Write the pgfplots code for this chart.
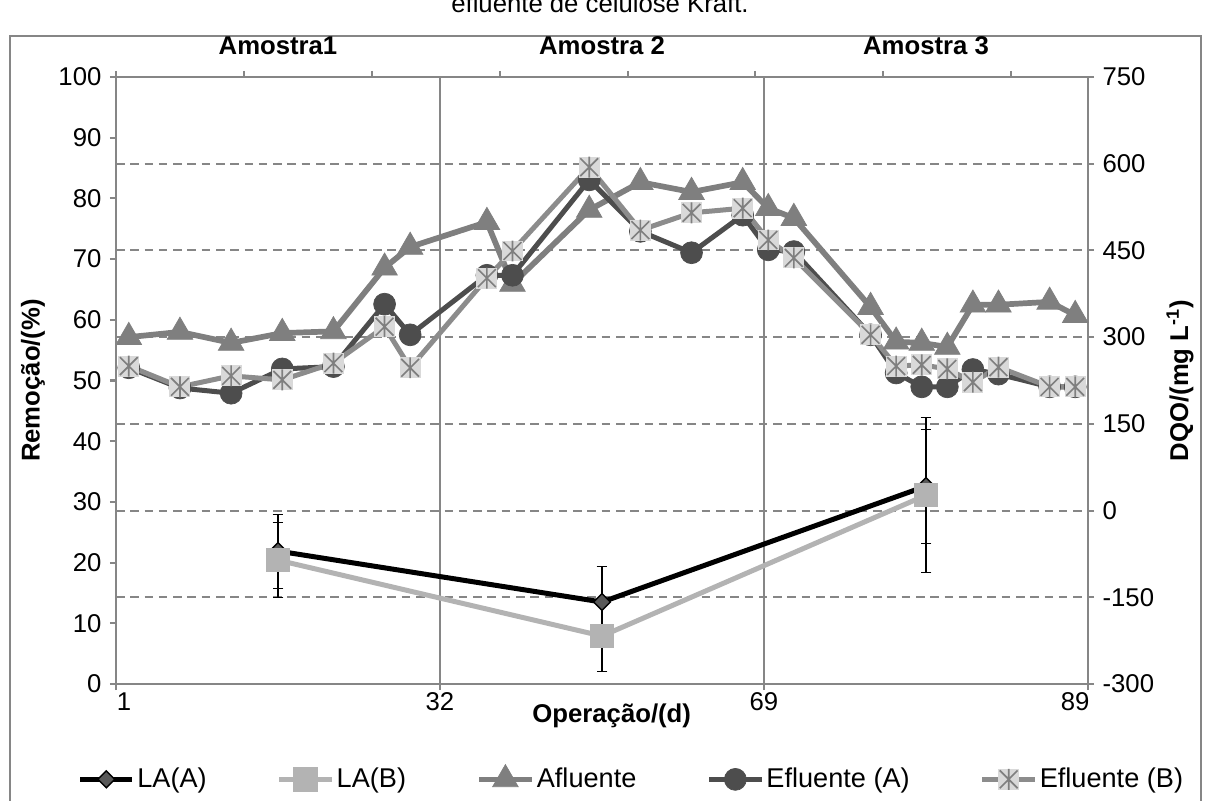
\documentclass[border=0pt]{standalone}
\usepackage{fontspec}
\setmainfont{Liberation Sans}
\usepackage{pgfplots}
\pgfplotsset{compat=1.18}

\definecolor{axgray}{HTML}{868686}
\definecolor{aflu}{HTML}{7F7F7F}
\definecolor{eflA}{HTML}{4D4D4D}
\definecolor{eflB}{HTML}{8C8C8C}
\definecolor{sqfill}{HTML}{D9D9D9}
\definecolor{astgray}{HTML}{7F7F7F}
\definecolor{laAmark}{HTML}{595959}
\definecolor{laB}{HTML}{B3B3B3}

% square with an asterisk, like the Excel marker of Efluente (B)
\pgfdeclareplotmark{sqast}{%
  \pgfpathrectangle{\pgfpoint{-\pgfplotmarksize}{-\pgfplotmarksize}}{\pgfpoint{2\pgfplotmarksize}{2\pgfplotmarksize}}%
  \pgfsetfillcolor{sqfill}%
  \pgfusepathqfill
  \pgfsetstrokecolor{astgray}%
  \pgfsetlinewidth{0.7pt}%
  \pgfpathmoveto{\pgfpoint{-0.85\pgfplotmarksize}{-0.85\pgfplotmarksize}}%
  \pgfpathlineto{\pgfpoint{0.85\pgfplotmarksize}{0.85\pgfplotmarksize}}%
  \pgfpathmoveto{\pgfpoint{-0.85\pgfplotmarksize}{0.85\pgfplotmarksize}}%
  \pgfpathlineto{\pgfpoint{0.85\pgfplotmarksize}{-0.85\pgfplotmarksize}}%
  \pgfpathmoveto{\pgfpoint{0pt}{-\pgfplotmarksize}}%
  \pgfpathlineto{\pgfpoint{0pt}{\pgfplotmarksize}}%
  \pgfusepathqstroke
}

\newcommand{\fs}{\fontsize{10.8}{13}\selectfont}
\newcommand{\fl}{\fontsize{11.4}{13.5}\selectfont}

% DQO series (x = category index + 0.5, 38 categories)
\pgfplotstableread{
x    afl  efa  efb
0.5  300  247  250
2.5  309  212  214
4.5  290  203  233
6.5  307  245  226
8.5  310  249  255
10.5 420  357  318
11.5 456  304  247
14.5 499  407  402
15.5 392  407  449
18.5 520  572  594
20.5 568  483  485
22.5 551  446  515
24.5 568  511  523
25.5 523  451  468
26.5 506  448  437
29.5 352  304  304
30.5 292  238  250
31.5 290  214  252
32.5 283  214  245
33.5 356  244  222
34.5 356  236  248
36.5 361  214  214
37.5 338  214  214
}\dqo

\begin{document}
\begin{tikzpicture}[x=0.42pt,y=0.42pt,font=\fs]

\draw[axgray, line width=0.85pt] (10,765) rectangle (1201,-30);

% secondary axes: DQO (right) and top category axis
\begin{axis}[
  at={(48.72pt,49.14pt)}, anchor=south west, scale only axis,
  width=408.24pt, height=254.94pt,
  xmin=0, xmax=38, ymin=-300, ymax=750,
  axis x line*=top, axis y line*=right,
  axis line style={axgray, line width=0.85pt},
  every tick/.style={axgray, line width=0.85pt},
  tick align=outside, major tick length=2.6pt,
  xtick={0,5,...,35}, xticklabels={},
  ytick={-300,-150,...,750},
  yticklabels={-300,-150,0,150,300,450,600,750},
  tick label style={font=\fs},
  ymajorgrids,
  major grid style={axgray, line width=0.85pt, dash pattern=on 3.6pt off 2.4pt},
  extra x ticks={12.6667,25.3333}, extra x tick labels={},
  extra x tick style={grid=major, major tick length=0pt,
    major grid style={solid, axgray, line width=0.85pt}},
  clip=false,
]
\addplot[aflu, line width=2.4pt, mark=triangle*, mark size=6.2pt,
  mark options={solid, fill=aflu, draw=aflu, line width=0.3pt}]
  table[x=x, y=afl] {\dqo};
\addplot[eflA, line width=2.1pt, mark=*, mark size=4.6pt,
  mark options={solid, fill=eflA, draw=eflA, line width=0.3pt}]
  table[x=x, y=efa] {\dqo};
\addplot[eflB, line width=2.1pt, mark=sqast, mark size=4.4pt]
  table[x=x, y=efb] {\dqo};
\node[rotate=90, font=\fs\bfseries] at (axis description cs:1.0947,0.5) {DQO/(mg L\textsuperscript{-1})};
\end{axis}

% primary axes: Remoção (left) and bottom axis
\begin{axis}[
  at={(48.72pt,49.14pt)}, anchor=south west, scale only axis,
  width=408.24pt, height=254.94pt,
  xmin=0, xmax=38, ymin=0, ymax=100,
  axis x line*=bottom, axis y line*=left,
  axis line style={axgray, line width=0.85pt},
  every tick/.style={axgray, line width=0.85pt},
  tick align=outside, major tick length=2.6pt,
  xtick={0,12.6667,25.3333,38}, xticklabels={},
  extra x ticks={0.31,12.6667,25.3333,37.5},
  extra x tick labels={1,32,69,89},
  extra x tick style={major tick length=0pt},
  ytick={0,10,...,100},
  tick label style={font=\fs},
  /pgf/number format/assume math mode=true,
  clip=false,
  legend columns=5,
  legend style={at={(axis description cs:-0.04,-0.1565)}, anchor=west,
    draw=none, fill=none, inner sep=0pt, font=\fl,
    nodes={inner sep=1pt},
    /tikz/every even column/.append style={column sep=28.5pt}},
  legend image code/.code={\draw[mark repeat=2,mark phase=2,#1]
    plot coordinates {(0pt,0pt) (11pt,0pt) (22pt,0pt)};},
]
\addplot[black, line width=2.1pt, mark=square*, mark size=2.5pt,
  mark options={solid, rotate=45, fill=laAmark, draw=black, line width=0.6pt},
  error bars/.cd, y dir=both, y explicit,
  error bar style={black, line width=0.8pt, mark size=2.3pt}]
  coordinates {(6.3333,21.9) +- (0,6.1) (19,13.5) +- (0,5.9) (31.6667,32.6) +- (0,9.4)};
\addlegendentry{LA(A)}
\addplot[laB, line width=2.1pt, mark=square*, mark size=4.1pt,
  mark options={solid, fill=laB, draw=laB},
  error bars/.cd, y dir=both, y explicit,
  error bar style={black, line width=0.8pt, mark size=2.3pt}]
  coordinates {(6.3333,20.4) +- (0,6.2) (19,7.9) +- (0,5.8) (31.6667,31.1) +- (0,12.8)};
\addlegendentry{LA(B)}
\addlegendimage{aflu, line width=2.4pt, mark=triangle*, mark size=6.2pt,
  mark options={solid, fill=aflu, draw=aflu, line width=0.3pt}}
\addlegendentry{Afluente}
\addlegendimage{eflA, line width=2.1pt, mark=*, mark size=4.6pt,
  mark options={solid, fill=eflA, draw=eflA, line width=0.3pt}}
\addlegendentry{Efluente (A)}
\addlegendimage{eflB, line width=2.1pt, mark=sqast, mark size=4.4pt}
\addlegendentry{Efluente (B)}

\node[font=\fs\bfseries] at (axis cs:6.3333,105.1) {Amostra1};
\node[font=\fs\bfseries] at (axis cs:19,105.1) {Amostra 2};
\node[font=\fs\bfseries] at (axis cs:31.6667,105.1) {Amostra 3};
\node[rotate=90, font=\fs\bfseries] at (axis description cs:-0.0854,0.5) {Remoção/(\%)};
\node[font=\fs\bfseries] at (axis description cs:0.51,-0.0527) {Operação/(d)};
\end{axis}

\node[anchor=base] at (600,788) {efluente de celulose Kraft.};

\pgfresetboundingbox
\useasboundingbox (0,0) rectangle (1212,801);
\end{tikzpicture}
\end{document}
